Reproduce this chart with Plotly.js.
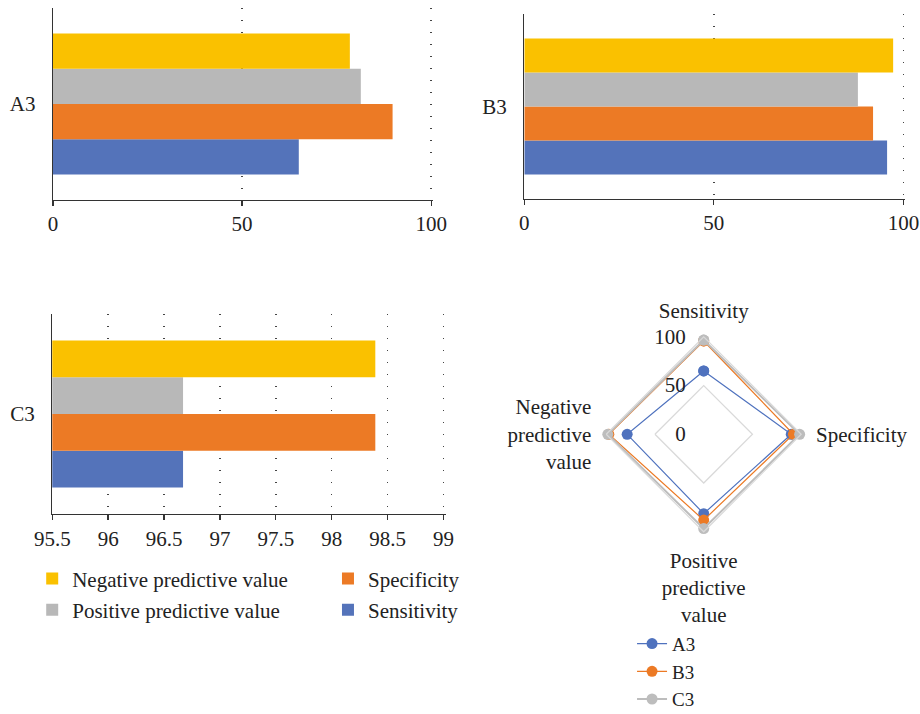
<!DOCTYPE html>
<html>
<head>
<meta charset="utf-8">
<script src="https://cdn.plot.ly/plotly-3.0.1.min.js"></script>
<style>html,body{margin:0;padding:0;background:#fff}#chart{width:920px;height:714px}</style>
</head>
<body>
<div id="chart"></div>
<script>
// ---- data ----
const metrics = ["Sensitivity", "Specificity", "Positive predictive value", "Negative predictive value"];
const radarLabels = ["Sensitivity", "Specificity", "Positive<br>predictive<br>value", "Negative<br>predictive<br>value"];
const groups = ["A3", "B3", "C3"];
const valuesA3 = [65.0, 89.8, 81.4, 78.5];
const valuesB3 = [95.7, 92.0, 88.0, 97.3];
const valuesC3 = [96.67, 98.39, 96.67, 98.39];
const ticksAB = [0, 50, 100];
const ticksC = [95.5, 96, 96.5, 97, 97.5, 98, 98.5, 99];
const radialTicks = [0, 50, 100];

const colors = ["#5473BA", "#EC7A25", "#B8B8B8", "#FAC100"];
const legendRank = [4, 2, 3, 1];
const legendOf = ["legend2", "legend2", "legend", "legend"];
const FONT = "'Liberation Serif', 'Times New Roman', serif";
const FS = 21;

const allValues = [valuesA3, valuesB3, valuesC3];
const axisSuffix = ["", "2", "3"];
const traces = [];
for (let g = 0; g < 3; g++) {
  for (let m = 0; m < metrics.length; m++) {
    traces.push({
      type: "bar", orientation: "h",
      x: [allValues[g][m]], y: [groups[g]],
      name: metrics[m],
      marker: {color: colors[m], line: {width: 0}},
      xaxis: "x" + axisSuffix[g], yaxis: "y" + axisSuffix[g],
      showlegend: g === 0, legend: legendOf[m], legendrank: legendRank[m],
      legendgroup: metrics[m], hoverinfo: "x+name"
    });
  }
}
const radarColors = ["#4F72BE", "#EC7A25", "#BDBDBD"];
for (let g = 0; g < 3; g++) {
  traces.push({
    type: "scatterpolar", mode: "lines+markers",
    r: allValues[g].concat([allValues[g][0]]),
    theta: radarLabels.concat([radarLabels[0]]),
    name: groups[g], legend: "legend3",
    line: {color: radarColors[g], width: g === 2 ? 2 : 1.2},
    marker: {color: radarColors[g], size: 11},
    subplot: "polar"
  });
}

const gridDash = "1px,11px";
function xAxis(domain, anchor, range, vals) {
  return {
    domain: domain, anchor: anchor, range: range, tickvals: vals,
    showline: true, linecolor: "#333", linewidth: 1.3,
    ticks: "outside", ticklen: 5, tickcolor: "#333", tickwidth: 1.3,
    showgrid: true, gridcolor: "#444", gridwidth: 1.4, griddash: gridDash,
    zeroline: false, tickfont: {family: FONT, size: FS, color: "#222"}, fixedrange: true
  };
}
function yAxis(domain, anchor) {
  return {
    domain: domain, anchor: anchor, type: "category",
    showline: true, linecolor: "#333", linewidth: 1.3,
    ticks: "outside", ticklen: 12, tickcolor: "rgba(0,0,0,0)",
    showgrid: false, zeroline: false,
    tickfont: {family: FONT, size: FS, color: "#222"}, fixedrange: true
  };
}

const layout = {
  width: 920, height: 714,
  margin: {l: 0, r: 0, t: 0, b: 0, autoexpand: false},
  paper_bgcolor: "#fff", plot_bgcolor: "#fff",
  font: {family: FONT, size: FS, color: "#222"},
  barmode: "group", bargap: 0.265, bargroupgap: 0,
  xaxis: xAxis([0.0576, 0.4707], "y", [0, 100.5], ticksAB),
  yaxis: yAxis([0.7199, 0.9888], "x"),
  xaxis2: xAxis([0.5699, 0.9840], "y2", [0, 100.5], ticksAB),
  yaxis2: yAxis([0.7213, 0.9804], "x2"),
  xaxis3: xAxis([0.0568, 0.4845], "y3", [95.5, 99.02], ticksC),
  yaxis3: yAxis([0.2801, 0.5602], "x3"),
  polar: {
    domain: {x: [0.6589, 0.8709], y: [0.2552, 0.5283]},
    bgcolor: "#fff", gridshape: "linear",
    angularaxis: {
      direction: "clockwise", rotation: 90, showgrid: false,
      showline: true, linecolor: "#D9D9D9", linewidth: 1.2,
      ticks: "outside", ticklen: 10, tickcolor: "rgba(0,0,0,0)",
      tickfont: {family: FONT, size: FS, color: "#222"}
    },
    radialaxis: {
      range: [0, 100], tickvals: radialTicks, angle: 90, side: "counterclockwise",
      showline: false, ticks: "outside", ticklen: 10, tickcolor: "rgba(0,0,0,0)",
      gridcolor: "#D9D9D9", gridwidth: 1.2,
      tickangle: 90, tickfont: {family: FONT, size: FS, color: "#222"}
    }
  },
  legend: {x: 0.035, y: 0.218, xanchor: "left", yanchor: "top", orientation: "v",
           font: {family: FONT, size: FS, color: "#222"}, tracegroupgap: 1, bgcolor: "rgba(0,0,0,0)"},
  legend2: {x: 0.3565, y: 0.218, xanchor: "left", yanchor: "top", orientation: "v",
           font: {family: FONT, size: FS, color: "#222"}, tracegroupgap: 1, bgcolor: "rgba(0,0,0,0)"},
  legend3: {x: 0.687, y: 0.125, xanchor: "left", yanchor: "top", orientation: "v",
           font: {family: FONT, size: 19, color: "#222"}, bgcolor: "rgba(0,0,0,0)"},
  showlegend: true
};

Plotly.newPlot("chart", traces, layout, {staticPlot: true, displayModeBar: false});
</script>
</body>
</html>
